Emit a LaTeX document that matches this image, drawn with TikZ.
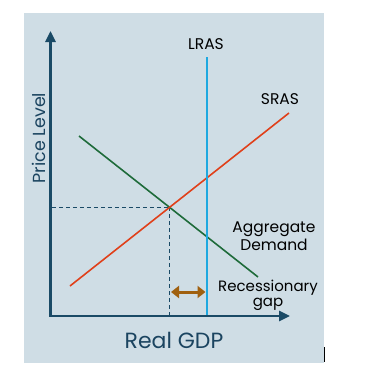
\documentclass[tikz,border=0pt]{standalone}
\usepackage{fontspec}
\setmainfont{Poppins}
\usetikzlibrary{arrows.meta}
\definecolor{bg}{HTML}{CFDDE5}
\definecolor{axis}{HTML}{1A4A66}
\definecolor{axtext}{HTML}{1B4460}
\definecolor{sras}{HTML}{E0401A}
\definecolor{ad}{HTML}{1E6B3A}
\definecolor{lras}{HTML}{1EA8E0}
\definecolor{gap}{HTML}{A0600F}
\begin{document}
\begin{tikzpicture}[x=1pt,y=-1pt,
  axisline/.style={draw=axis,line width=2.6pt,-{Triangle[length=11pt,width=10pt]}},
  curve/.style={line width=1.6pt},
  guide/.style={draw=axis,dashed,line width=0.7pt,dash pattern=on 4pt off 3pt},
  lbl/.style={font=\fontsize{15.5}{15}\selectfont,text=black,align=center,inner sep=0pt},
  axlbl/.style={text=axtext,inner sep=0pt}]
\useasboundingbox (0,0) rectangle (376,375);
\fill[bg] (24,13) rectangle (324,363);
\draw[black,line width=0.8pt] (324.5,347) -- (324.5,362);
% coordinates
\coordinate (O) at (50.5,316);
\coordinate (ytip) at (50.5,31);
\coordinate (xtip) at (290,316);
\coordinate (E) at (169,207);
\coordinate (Ey) at (52,207);
\coordinate (Ex) at (169,316);
\coordinate (L1) at (207,57);
\coordinate (L0) at (207,316);
\coordinate (S0) at (70,286);
\coordinate (S1) at (289,113);
\coordinate (A0) at (79,136);
\coordinate (A1) at (258,277);
\coordinate (G0) at (171,292);
\coordinate (G1) at (205.5,292);
% guides
\draw[guide] (Ey) -- (E);
\draw[guide] (E) -- (Ex);
% curves
\draw[curve,draw=ad] (A0) -- (A1);
\draw[curve,draw=sras] (S0) -- (S1);
\draw[curve,draw=lras] (L1) -- (L0);
% gap arrow
\draw[draw=gap,line width=3pt,{Triangle[length=8pt,width=12pt]}-{Triangle[length=8pt,width=12pt]}] (G0) -- (G1);
% axes
\draw[axisline] (O) -- (ytip);
\draw[axisline] ([xshift=-1.3pt]O) -- (xtip);
% labels
\node[lbl] (lrasl) at (206,44) {LRAS};
\node[lbl] (srasl) at (280,99) {SRAS};
\node[lbl,font=\fontsize{15.5}{18}\selectfont] (adl) at (274,236) {Aggregate\\Demand};
\node[lbl,font=\fontsize{15}{15}\selectfont] (gapl) at (268,295) {Recessionary\\gap};
\node[axlbl,font=\fontsize{22}{24}\selectfont] (xl) at (174,340) {Real GDP};
\node[axlbl,font=\fontsize{17.5}{18}\selectfont,rotate=90] (yl) at (39,138) {Price Level};
\end{tikzpicture}
\end{document}
